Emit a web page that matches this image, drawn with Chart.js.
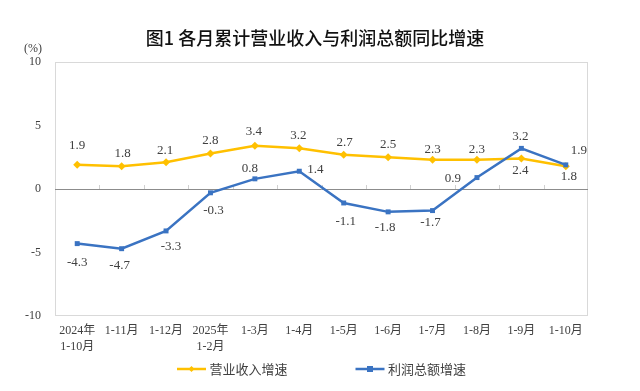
<!DOCTYPE html>
<html>
<head>
<meta charset="utf-8">
<script src="https://cdn.jsdelivr.net/npm/chart.js@4/dist/chart.umd.min.js"></script>
<style>
  html, body { margin: 0; padding: 0; background: #fff; }
</style>
</head>
<body>
<canvas id="myChart" width="640" height="391"></canvas>
<script>
const labels = [
  ["2024年", "1-10月"], "1-11月", "1-12月", ["2025年", "1-2月"], "1-3月", "1-4月",
  "1-5月", "1-6月", "1-7月", "1-8月", "1-9月", "1-10月"
];
const revenue = [1.9, 1.8, 2.1, 2.8, 3.4, 3.2, 2.7, 2.5, 2.3, 2.3, 2.4, 1.8];
const profit = [-4.3, -4.7, -3.3, -0.3, 0.8, 1.4, -1.1, -1.8, -1.7, 0.9, 3.2, 1.9];
const yTicks = [-10, -5, 0, 5, 10];
const seriesNames = ["营业收入增速", "利润总额增速"];
const titleText = "图1 各月累计营业收入与利润总额同比增速";
const unitText = "(%)";

const serif = "'Liberation Serif', 'Noto Sans CJK SC', serif";
const cjk = "'Noto Sans CJK SC', sans-serif";
const textColor = "#404040";

// where each value label sits relative to its point (dx, dy in px)
const labelShift = [
  [[0, -19], [1, -13], [-1, -12], [0, -13], [-1, -14], [-1, -13],
   [1, -12], [0, -13], [0, -10], [0, -10], [-1, 12], [3, 10]],
  [[0, 19], [-2, 17], [5, 16], [3, 18], [-5, -10], [16, -2],
   [2, 19], [-3, 16], [-2, 12], [-24, 1], [-1, -12], [13, -14]]
];

function marker(ctx, style, x, y, r) {
  ctx.beginPath();
  if (style === "rectRot") {
    ctx.moveTo(x, y - r); ctx.lineTo(x + r, y); ctx.lineTo(x, y + r); ctx.lineTo(x - r, y);
  } else {
    ctx.rect(x - r, y - r, r * 2, r * 2);
  }
  ctx.closePath();
  ctx.fill();
}

const decor = {
  id: "decor",
  beforeDatasetsDraw(chart) {
    const { ctx, chartArea: a, scales: { x, y } } = chart;
    ctx.save();
    ctx.lineWidth = 1;
    ctx.strokeStyle = "#d9d9d9";
    ctx.strokeRect(a.left + 0.5, a.top + 0.5, a.width - 1, a.height - 1);
    const y0 = Math.round(y.getPixelForValue(0)) + 0.5;
    ctx.strokeStyle = "#8c8c8c";
    ctx.beginPath(); ctx.moveTo(a.left, y0); ctx.lineTo(a.right, y0); ctx.stroke();
    ctx.strokeStyle = "#d0d0d0";
    for (let i = 0; i < labels.length - 1; i++) {
      const xb = Math.round((x.getPixelForValue(i) + x.getPixelForValue(i + 1)) / 2) + 0.5;
      ctx.beginPath(); ctx.moveTo(xb, y0 - 0.5); ctx.lineTo(xb, y0 - 4.5); ctx.stroke();
    }
    ctx.restore();
  },
  afterDatasetsDraw(chart) {
    const { ctx } = chart;
    ctx.save();
    ctx.font = "13px " + serif;
    ctx.fillStyle = textColor;
    ctx.textAlign = "center";
    ctx.textBaseline = "middle";
    chart.data.datasets.forEach((ds, di) => {
      chart.getDatasetMeta(di).data.forEach((pt, i) => {
        const s = labelShift[di][i];
        ctx.fillText(ds.data[i].toFixed(1), pt.x + s[0], pt.y + s[1]);
      });
    });
    ctx.restore();
  },
  afterDraw(chart) {
    const { ctx, chartArea: a } = chart;
    ctx.save();
    ctx.fillStyle = "#111";
    ctx.textAlign = "center";
    ctx.textBaseline = "middle";
    ctx.font = "500 18px " + cjk;
    ctx.fillText(titleText, chart.width / 2 - 5, 38);

    ctx.fillStyle = textColor;
    ctx.font = "12px " + serif;
    ctx.fillText(unitText, 33, 49);

    // legend: short line with marker, then the name
    ctx.font = "13px " + cjk;
    ctx.textAlign = "left";
    const lineW = 29, gap = 3.5, between = 68;
    const widths = chart.data.datasets.map(ds => ctx.measureText(ds.label).width);
    const total = widths.reduce((t, w) => t + lineW + gap + w, 0) + between;
    let lx = (a.left + a.right) / 2 - total / 2;
    const ly = 369;
    chart.data.datasets.forEach((ds, i) => {
      ctx.strokeStyle = ds.borderColor;
      ctx.fillStyle = ds.borderColor;
      ctx.lineWidth = 2.5;
      ctx.beginPath(); ctx.moveTo(lx, ly); ctx.lineTo(lx + lineW, ly); ctx.stroke();
      marker(ctx, ds.pointStyle, lx + lineW / 2, ly, 3);
      ctx.fillStyle = textColor;
      ctx.fillText(ds.label, lx + lineW + gap, ly);
      lx += lineW + gap + widths[i] + between;
    });
    ctx.restore();
  }
};

const data = {
  labels,
  datasets: [
    {
      label: seriesNames[0],
      data: revenue,
      borderColor: "#FFC000",
      backgroundColor: "#FFC000",
      borderWidth: 2.5,
      pointStyle: "rectRot",
      pointRadius: 4,
      pointBorderWidth: 0,
      order: 1
    },
    {
      label: seriesNames[1],
      data: profit,
      borderColor: "#3A73C2",
      backgroundColor: "#3A73C2",
      borderWidth: 2.5,
      pointStyle: "rect",
      pointRadius: 3.5,
      pointBorderWidth: 0,
      order: 0
    }
  ]
};

const config = {
  type: "line",
  data,
  plugins: [decor],
  options: {
    responsive: false,
    animation: false,
    layout: { padding: { top: 62, right: 52, bottom: 29, left: 0 } },
    plugins: {
      legend: { display: false },
      title: { display: false },
      tooltip: { enabled: false }
    },
    scales: {
      x: {
        offset: true,
        grid: { display: false, drawTicks: false },
        border: { display: false },
        ticks: {
          color: textColor,
          font: { family: serif, size: 12, lineHeight: 1.333 },
          padding: 7,
          maxRotation: 0,
          autoSkip: false
        }
      },
      y: {
        min: -10,
        max: 10,
        afterFit(scale) { scale.width = 55; },
        afterBuildTicks(scale) { scale.ticks = yTicks.map(v => ({ value: v })); },
        grid: { display: false, drawTicks: false },
        border: { display: false },
        ticks: {
          color: textColor,
          font: { family: serif, size: 12 },
          padding: 14
        }
      }
    }
  }
};

const myChart = new Chart(document.getElementById("myChart").getContext("2d"), config);
</script>
</body>
</html>
